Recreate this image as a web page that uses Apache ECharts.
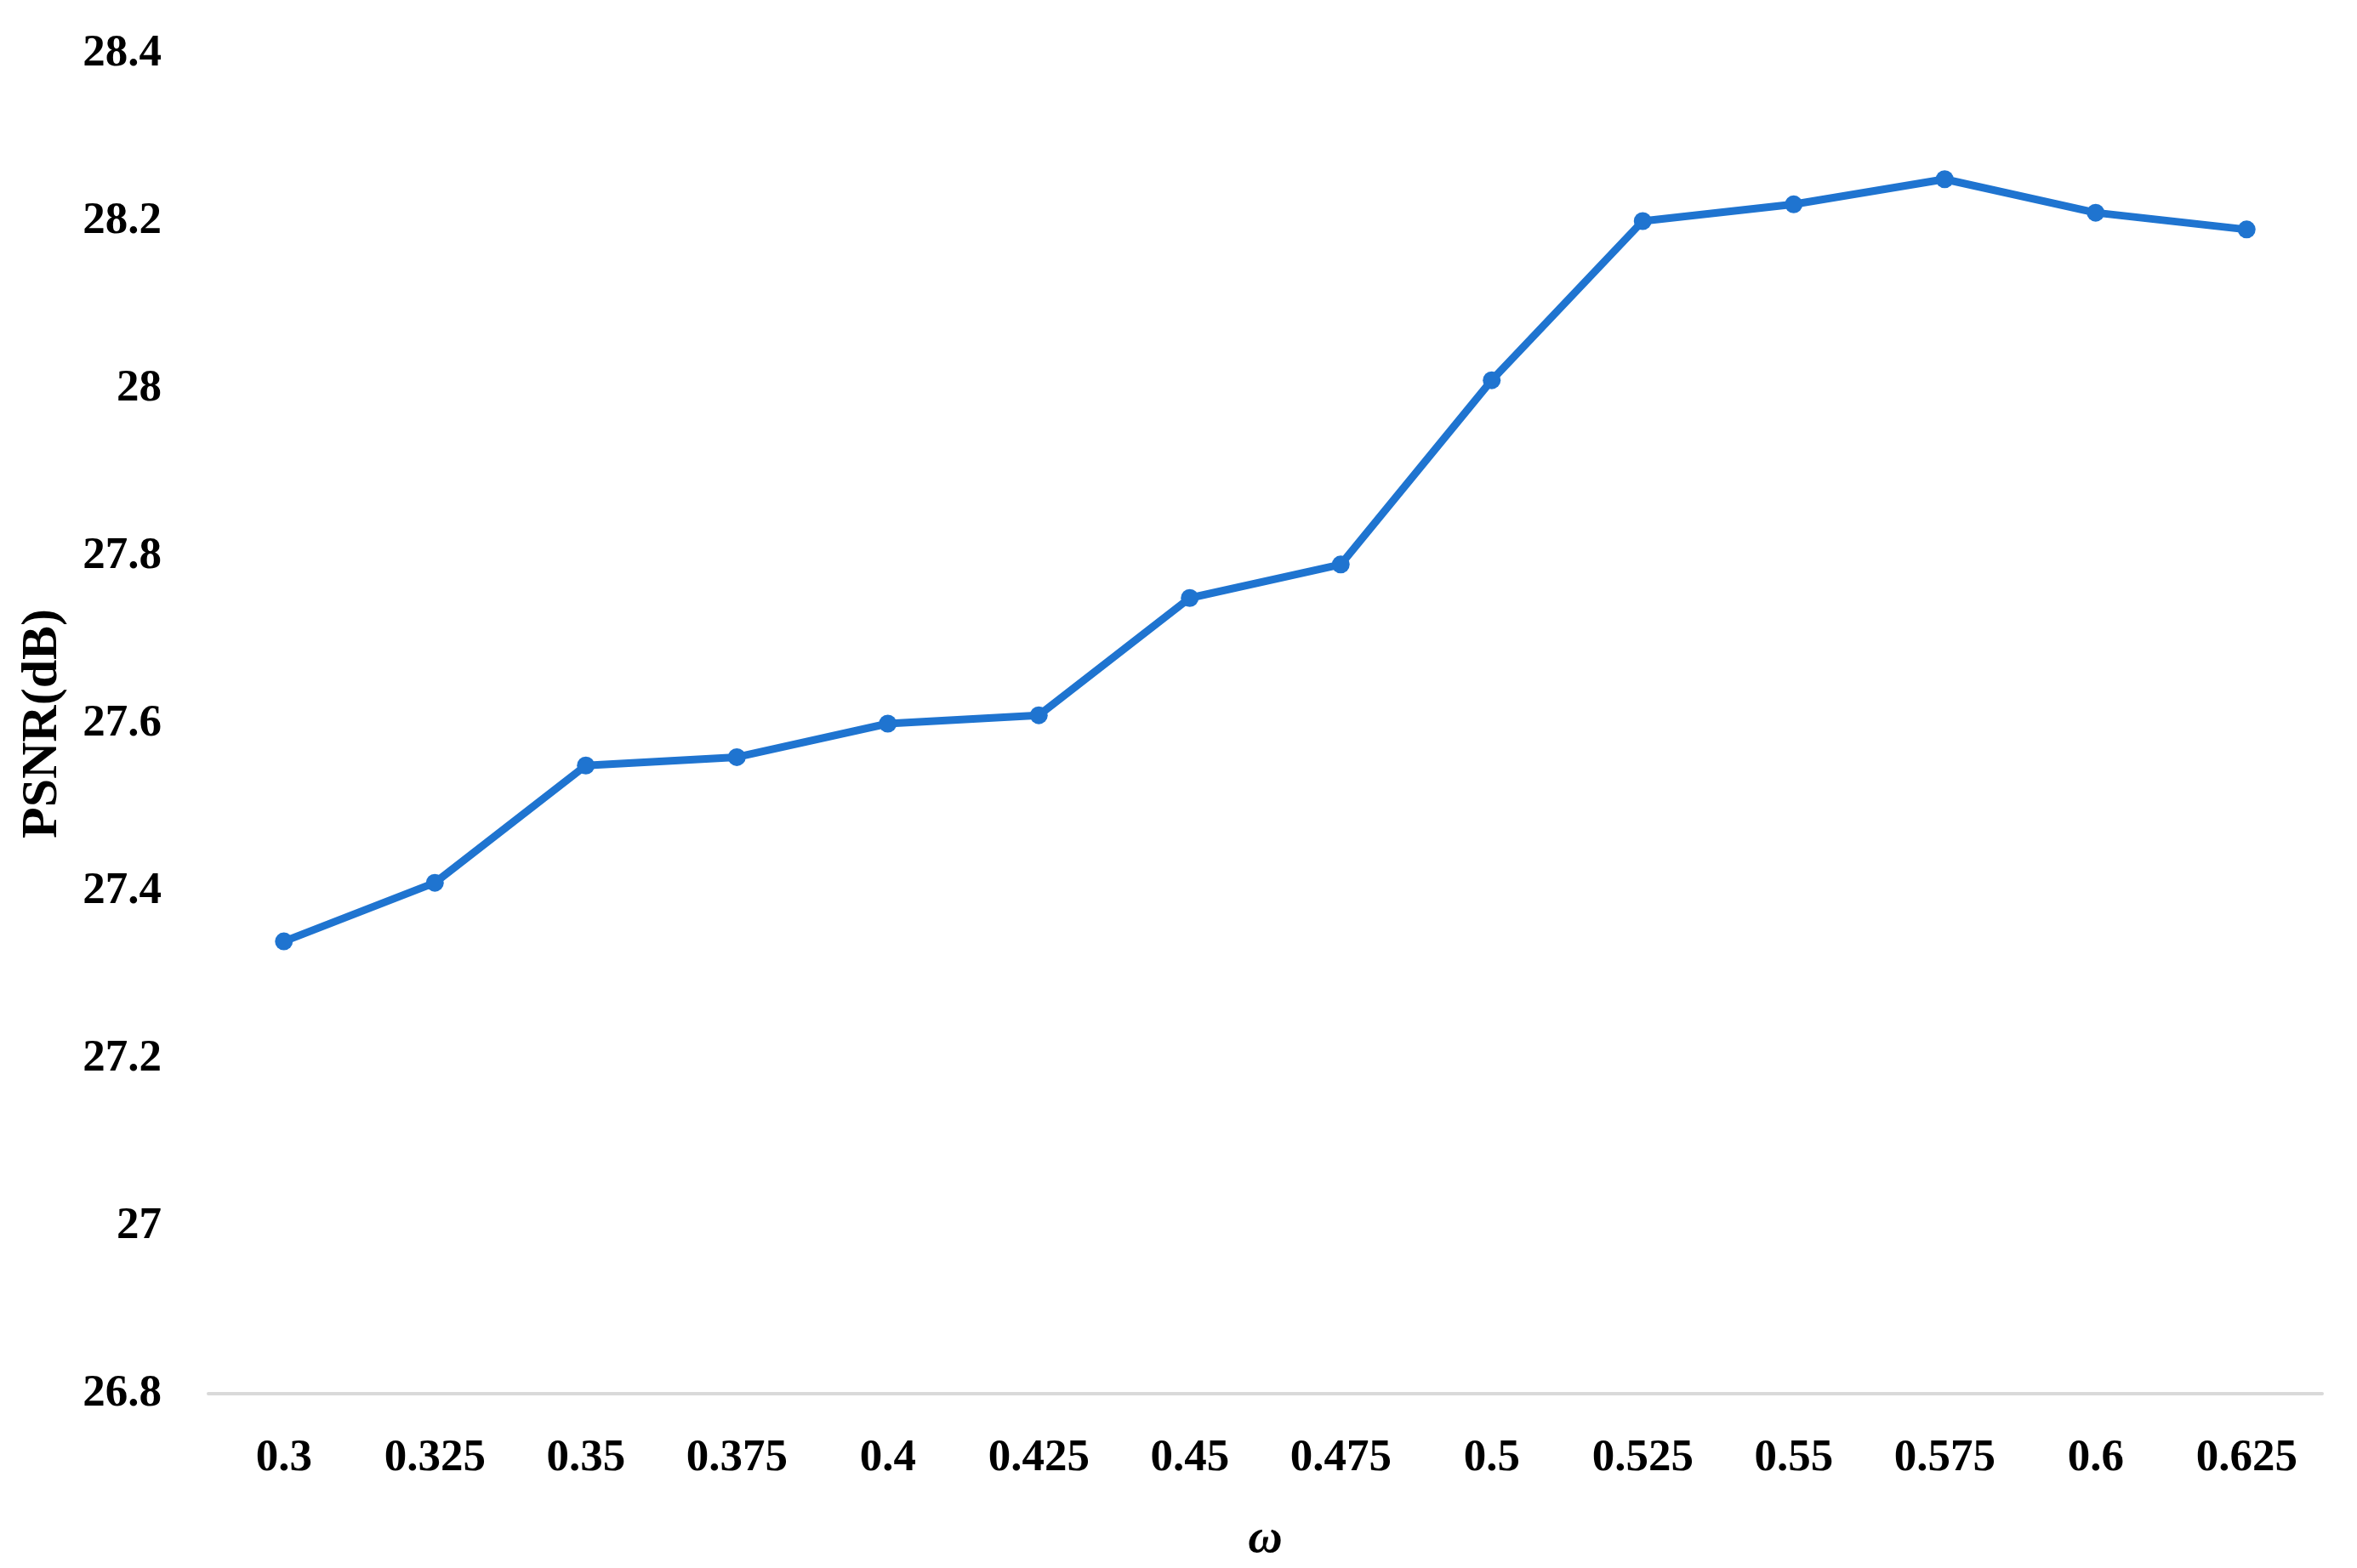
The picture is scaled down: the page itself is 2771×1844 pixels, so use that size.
<!DOCTYPE html>
<html>
<head>
<meta charset="utf-8">
<script src="https://cdn.jsdelivr.net/npm/echarts@6/dist/echarts.min.js"></script>
<style>
html,body{margin:0;padding:0;background:#fff;}
#chart{width:2771px;height:1844px;}
</style>
</head>
<body>
<div id="chart"></div>
<script>
const categories = ['0.3','0.325','0.35','0.375','0.4','0.425','0.45','0.475','0.5','0.525','0.55','0.575','0.6','0.625'];
const psnr = [27.34, 27.41, 27.55, 27.56, 27.60, 27.61, 27.75, 27.79, 28.01, 28.20, 28.22, 28.25, 28.21, 28.19];
const yMin = 26.8, yMax = 28.4, yStep = 0.2;
const xName = 'ω';
const yName = 'PSNR(dB)';

const FONT = '"Liberation Serif", "DejaVu Serif", serif';
const chart = echarts.init(document.getElementById('chart'));
chart.setOption({
  backgroundColor: '#ffffff',
  animation: false,
  grid: { left: 245, right: 41, top: 63, bottom: 188, containLabel: false },
  xAxis: {
    type: 'category',
    data: categories,
    boundaryGap: true,
    name: xName,
    nameLocation: 'middle',
    nameGap: 144,
    nameTextStyle: { fontFamily: FONT, fontSize: 56, fontWeight: 'bold', fontStyle: 'italic', color: '#000' },
    axisLine: { show: true, lineStyle: { color: '#d9d9d9', width: 4 } },
    axisTick: { show: false },
    axisLabel: { fontFamily: FONT, fontSize: 53, fontWeight: 'bold', color: '#000', margin: 50 },
    splitLine: { show: false }
  },
  yAxis: {
    type: 'value',
    min: yMin, max: yMax, interval: yStep,
    name: yName,
    nameLocation: 'middle',
    nameGap: 165,
    nameRotate: 90,
    nameTextStyle: { fontFamily: FONT, fontSize: 60, fontWeight: 'bold', color: '#000' },
    axisLine: { show: false },
    axisTick: { show: false },
    splitLine: { show: false },
    axisLabel: {
      fontFamily: FONT, fontSize: 53, fontWeight: 'bold', color: '#000', margin: 55,
      formatter: v => String(parseFloat(v.toFixed(1)))
    }
  },
  series: [{
    type: 'line',
    data: psnr,
    symbol: 'circle',
    symbolSize: 21,
    lineStyle: { color: '#1f74d0', width: 9 },
    itemStyle: { color: '#1f74d0' }
  }]
});
</script>
</body>
</html>
